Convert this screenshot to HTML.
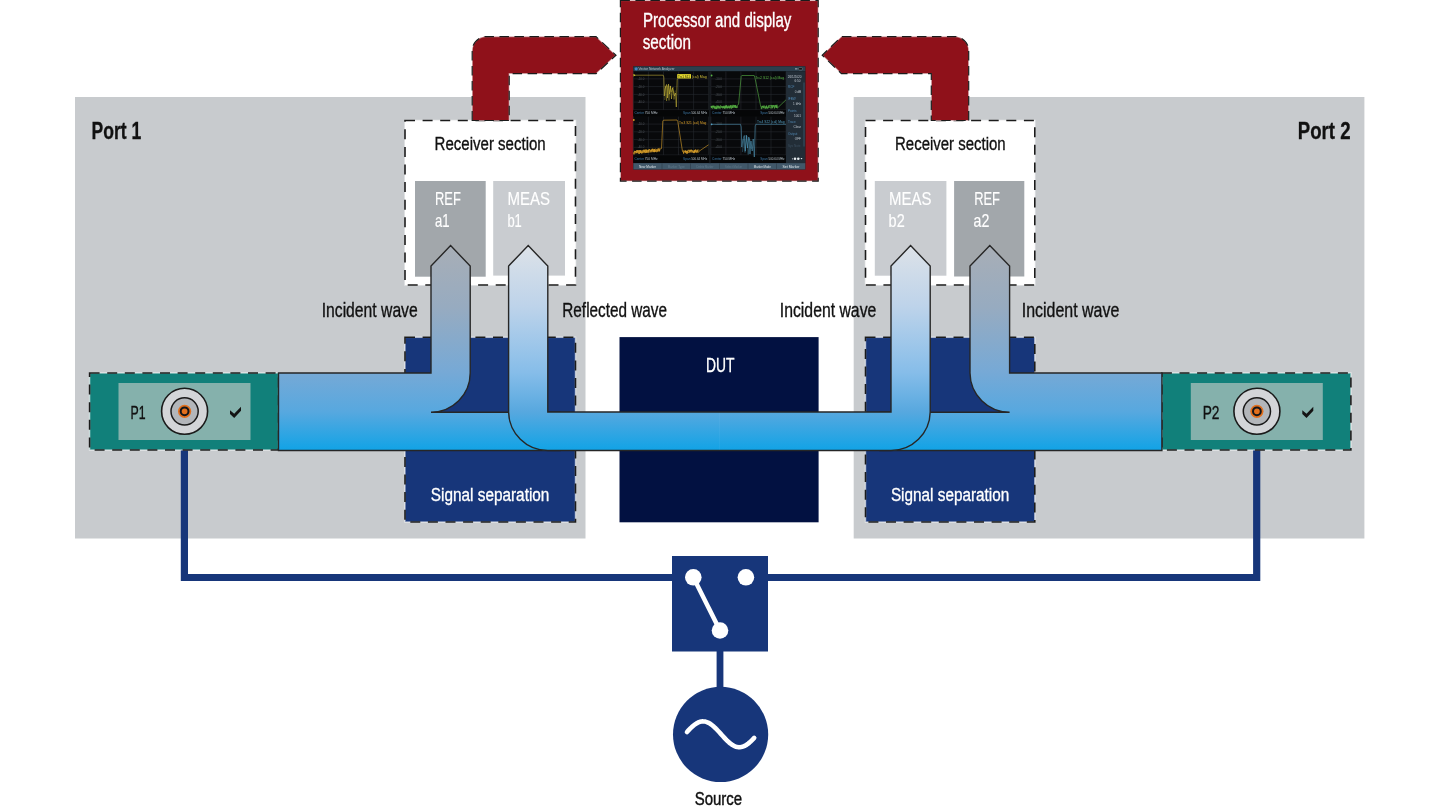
<!DOCTYPE html>
<html><head><meta charset="utf-8"><style>
html,body{margin:0;padding:0;background:#fff;}
svg{display:block;will-change:transform;}
text{font-family:"Liberation Sans",sans-serif;}
</style></head><body>
<svg width="1440" height="810" viewBox="0 0 1440 810">
<rect width="1440" height="810" fill="#fff"/>
<rect x="75" y="97" width="510.5" height="441.5" fill="#c8cbce"/>
<rect x="853.7" y="97" width="510.7" height="441.5" fill="#c8cbce"/>
<rect x="620.4" y="0.5" width="197.8" height="180.6" fill="#8f111a" stroke="#ffffff" stroke-opacity="0.45" stroke-width="1.2"/>
<rect x="620.4" y="0.5" width="197.8" height="180.6" fill="none" stroke="#1b1b1b" stroke-width="1.2" stroke-dasharray="9.5 5.5"/>
<rect x="405" y="120.5" width="170.5" height="164.5" fill="#ffffff" stroke="#ffffff" stroke-opacity="0.55" stroke-width="1.5"/>
<rect x="405" y="120.5" width="170.5" height="164.5" fill="none" stroke="#1b1b1b" stroke-width="1.6" stroke-dasharray="10 7.6"/>
<rect x="865.5" y="120.5" width="169.3" height="164.5" fill="#ffffff" stroke="#ffffff" stroke-opacity="0.55" stroke-width="1.5"/>
<rect x="865.5" y="120.5" width="169.3" height="164.5" fill="none" stroke="#1b1b1b" stroke-width="1.6" stroke-dasharray="10 7.6"/>
<rect x="415" y="181" width="70.7" height="95.7" fill="#a2a7ab"/>
<rect x="493.2" y="181" width="71.8" height="94.6" fill="#c9ccd0"/>
<rect x="874.8" y="181" width="71.6" height="94.7" fill="#c9ccd0"/>
<rect x="954.1" y="181" width="70.2" height="95.5" fill="#a2a7ab"/>
<path d="M472.2,120.5 V50.6 A14,14 0 0 1 486.2,36.6 H596 L616,55.2 L596,73.7 H509.2 V120.5 Z" fill="#8f111a" stroke="#ffffff" stroke-opacity="0.45" stroke-width="1.2"/>
<path d="M472.2,120.5 V50.6 A14,14 0 0 1 486.2,36.6 H596 L616,55.2 L596,73.7 H509.2 V120.5 Z" fill="none" stroke="#1b1b1b" stroke-width="1.2" stroke-dasharray="9.5 5.5"/>
<path d="M968.7,120.5 V50.6 A14,14 0 0 0 954.7,36.6 H841.5 L822.2,55.2 L841.5,73.7 H931.3 V120.5 Z" fill="#8f111a" stroke="#ffffff" stroke-opacity="0.45" stroke-width="1.2"/>
<path d="M968.7,120.5 V50.6 A14,14 0 0 0 954.7,36.6 H841.5 L822.2,55.2 L841.5,73.7 H931.3 V120.5 Z" fill="none" stroke="#1b1b1b" stroke-width="1.2" stroke-dasharray="9.5 5.5"/>
<rect x="405" y="337.3" width="170.5" height="184.7" fill="#17367a" stroke="#ffffff" stroke-opacity="0.55" stroke-width="1.5"/>
<rect x="405" y="337.3" width="170.5" height="184.7" fill="none" stroke="#1b1b1b" stroke-width="1.6" stroke-dasharray="10 7.6"/>
<rect x="865.5" y="337.3" width="169.3" height="184.7" fill="#17367a" stroke="#ffffff" stroke-opacity="0.55" stroke-width="1.5"/>
<rect x="865.5" y="337.3" width="169.3" height="184.7" fill="none" stroke="#1b1b1b" stroke-width="1.6" stroke-dasharray="10 7.6"/>
<rect x="619.5" y="337.1" width="199.1" height="185.2" fill="#021141"/>
<polyline points="184.4,448 184.4,577.5 1256.7,577.5 1256.7,448" fill="none" stroke="#17367a" stroke-width="7.2"/>
<line x1="720" y1="650" x2="720" y2="690" stroke="#17367a" stroke-width="6.8"/>
<rect x="89.6" y="373" width="189" height="77" fill="#11807a" stroke="#ffffff" stroke-opacity="0.55" stroke-width="1.5"/>
<rect x="89.6" y="373" width="189" height="77" fill="none" stroke="#1b1b1b" stroke-width="1.6" stroke-dasharray="10 7.6"/>
<rect x="118.5" y="383" width="132" height="57" fill="#85b1ac"/>
<circle cx="184.6" cy="411.3" r="23" fill="#d3d5d8" stroke="#1a1a1a" stroke-width="1.6"/>
<circle cx="184.6" cy="411.3" r="13.6" fill="#b3b6ba" stroke="#1a1a1a" stroke-width="1.5"/>
<circle cx="184.6" cy="411.3" r="6.6" fill="#e36f1d"/>
<circle cx="184.6" cy="411.3" r="3.9" fill="none" stroke="#14161a" stroke-width="2"/>
<path d="M230.0,410.3 L234.2,413.8 L241.0,406.8 L241.0,410.8 L234.2,418 L230.0,414 Z" fill="#141414"/>
<rect x="1161.9" y="373" width="189" height="77" fill="#11807a" stroke="#ffffff" stroke-opacity="0.55" stroke-width="1.5"/>
<rect x="1161.9" y="373" width="189" height="77" fill="none" stroke="#1b1b1b" stroke-width="1.6" stroke-dasharray="10 7.6"/>
<rect x="1190.8000000000002" y="383" width="132" height="57" fill="#85b1ac"/>
<circle cx="1256.9" cy="411.3" r="23" fill="#d3d5d8" stroke="#1a1a1a" stroke-width="1.6"/>
<circle cx="1256.9" cy="411.3" r="13.6" fill="#b3b6ba" stroke="#1a1a1a" stroke-width="1.5"/>
<circle cx="1256.9" cy="411.3" r="6.6" fill="#e36f1d"/>
<circle cx="1256.9" cy="411.3" r="3.9" fill="none" stroke="#14161a" stroke-width="2"/>
<path d="M1302.3000000000002,410.3 L1306.5000000000002,413.8 L1313.3000000000002,406.8 L1313.3000000000002,410.8 L1306.5000000000002,418 L1302.3000000000002,414 Z" fill="#141414"/>
<defs>
<linearGradient id="gA" gradientUnits="userSpaceOnUse" x1="0" y1="245" x2="0" y2="451">
<stop offset="0" stop-color="#a8aeb6"/>
<stop offset="0.3" stop-color="#97abc0"/>
<stop offset="0.62" stop-color="#76a9d6"/>
<stop offset="0.81" stop-color="#57a8df"/>
<stop offset="1" stop-color="#10a3e6"/>
</linearGradient>
<linearGradient id="gB" gradientUnits="userSpaceOnUse" x1="0" y1="245" x2="0" y2="451">
<stop offset="0" stop-color="#dde2e8"/>
<stop offset="0.3" stop-color="#bdd3ea"/>
<stop offset="0.62" stop-color="#86bde9"/>
<stop offset="0.81" stop-color="#57a8df"/>
<stop offset="1" stop-color="#10a3e6"/>
</linearGradient>
</defs>
<path d="M278.5,373 H431 V266 L450.6,245.6 L470.2,266 V373 A39.2,39.2 0 0 1 431,412.2 H560 V450.5 H278.5 Z" fill="url(#gA)" stroke="#262626" stroke-width="1.4"/>
<path d="M1161.9,373 H1009.6 V266 L989.8,245.6 L970,266 V373 A39.6,39.6 0 0 0 1009.6,412.2 H880 V450.5 H1161.9 Z" fill="url(#gA)" stroke="#262626" stroke-width="1.4"/>
<path d="M508.6,412 V266 L528.2,245.6 L547.8,266 V412 H891 V266 L910.6,245.6 L930.2,266 V412 A39.2,39.2 0 0 1 891,450.5 H547.8 A39.2,39.2 0 0 1 508.6,412 Z" fill="url(#gB)" stroke="#262626" stroke-width="1.4"/>
<line x1="719.6" y1="412.8" x2="719.6" y2="449.8" stroke="#ffffff" stroke-opacity="0.07" stroke-width="0.7"/>
<rect x="672" y="556" width="96" height="95.5" fill="#17367a"/>
<line x1="693.3" y1="577.3" x2="720" y2="630.5" stroke="#fff" stroke-width="4.5"/>
<circle cx="693.3" cy="577.3" r="8.3" fill="#fff"/>
<circle cx="745.9" cy="577.3" r="8.3" fill="#fff"/>
<circle cx="720" cy="630.5" r="8.3" fill="#fff"/>
<circle cx="720.6" cy="734.4" r="47.6" fill="#17367a"/>
<polyline points="687.00,731.97 688.20,730.67 689.40,729.40 690.60,728.19 691.80,727.05 693.00,725.98 694.20,725.00 695.40,724.13 696.60,723.36 697.80,722.71 699.00,722.18 700.20,721.79 701.40,721.53 702.60,721.41 703.80,721.43 705.00,721.58 706.20,721.88 707.40,722.30 708.60,722.86 709.80,723.54 711.00,724.33 712.20,725.24 713.40,726.24 714.60,727.33 715.80,728.49 717.00,729.71 718.20,730.99 719.40,732.30 720.60,733.63 721.80,734.97 723.00,736.30 724.20,737.61 725.40,738.89 726.60,740.11 727.80,741.27 729.00,742.36 730.20,743.36 731.40,744.27 732.60,745.06 733.80,745.74 735.00,746.30 736.20,746.72 737.40,747.02 738.60,747.17 739.80,747.19 741.00,747.07 742.20,746.81 743.40,746.42 744.60,745.89 745.80,745.24 747.00,744.47 748.20,743.60 749.40,742.62 750.60,741.55 751.80,740.41 753.00,739.20 754.20,737.93" fill="none" stroke="#fff" stroke-width="4.6" stroke-linecap="round" stroke-linejoin="round"/>
<text x="91.50" y="138.80" font-size="24.71" font-weight="bold" fill="#111" textLength="49.70" lengthAdjust="spacingAndGlyphs" stroke="#111" stroke-width="0.35" >Port 1</text>
<text x="1297.80" y="138.80" font-size="24.71" font-weight="bold" fill="#111" textLength="52.70" lengthAdjust="spacingAndGlyphs" stroke="#111" stroke-width="0.35" >Port 2</text>
<text x="643.00" y="26.60" font-size="19.48" fill="#ffffff" textLength="148.41" lengthAdjust="spacingAndGlyphs" stroke="#ffffff" stroke-width="0.35" >Processor and display</text>
<text x="642.70" y="48.70" font-size="19.48" fill="#ffffff" textLength="48.31" lengthAdjust="spacingAndGlyphs" stroke="#ffffff" stroke-width="0.35" >section</text>
<text x="434.60" y="150.30" font-size="19.19" fill="#111" textLength="111.10" lengthAdjust="spacingAndGlyphs" stroke="#111" stroke-width="0.35" >Receiver section</text>
<text x="895.00" y="150.30" font-size="19.19" fill="#111" textLength="110.70" lengthAdjust="spacingAndGlyphs" stroke="#111" stroke-width="0.35" >Receiver section</text>
<text x="435.00" y="204.50" font-size="17.44" fill="#ffffff" textLength="25.80" lengthAdjust="spacingAndGlyphs" stroke="#ffffff" stroke-width="0.15" >REF</text>
<text x="435.00" y="226.50" font-size="17.44" fill="#ffffff" textLength="14.60" lengthAdjust="spacingAndGlyphs" stroke="#ffffff" stroke-width="0.15" >a1</text>
<text x="507.40" y="204.50" font-size="17.44" fill="#ffffff" textLength="42.60" lengthAdjust="spacingAndGlyphs" stroke="#ffffff" stroke-width="0.15" >MEAS</text>
<text x="507.40" y="226.50" font-size="17.44" fill="#ffffff" textLength="14.40" lengthAdjust="spacingAndGlyphs" stroke="#ffffff" stroke-width="0.15" >b1</text>
<text x="889.00" y="204.50" font-size="17.44" fill="#ffffff" textLength="42.40" lengthAdjust="spacingAndGlyphs" stroke="#ffffff" stroke-width="0.15" >MEAS</text>
<text x="888.60" y="226.50" font-size="17.44" fill="#ffffff" textLength="16.10" lengthAdjust="spacingAndGlyphs" stroke="#ffffff" stroke-width="0.15" >b2</text>
<text x="974.20" y="204.50" font-size="17.44" fill="#ffffff" textLength="25.80" lengthAdjust="spacingAndGlyphs" stroke="#ffffff" stroke-width="0.15" >REF</text>
<text x="973.50" y="226.50" font-size="17.44" fill="#ffffff" textLength="15.80" lengthAdjust="spacingAndGlyphs" stroke="#ffffff" stroke-width="0.15" >a2</text>
<text x="321.70" y="316.80" font-size="19.48" fill="#111" textLength="96.00" lengthAdjust="spacingAndGlyphs" stroke="#111" stroke-width="0.35" >Incident wave</text>
<text x="562.30" y="316.80" font-size="19.48" fill="#111" textLength="104.70" lengthAdjust="spacingAndGlyphs" stroke="#111" stroke-width="0.35" >Reflected wave</text>
<text x="779.80" y="316.80" font-size="19.48" fill="#111" textLength="96.50" lengthAdjust="spacingAndGlyphs" stroke="#111" stroke-width="0.35" >Incident wave</text>
<text x="1021.80" y="317.00" font-size="19.48" fill="#111" textLength="97.50" lengthAdjust="spacingAndGlyphs" stroke="#111" stroke-width="0.35" >Incident wave</text>
<text x="705.90" y="371.60" font-size="19.77" fill="#ffffff" textLength="28.50" lengthAdjust="spacingAndGlyphs" stroke="#ffffff" stroke-width="0.35" >DUT</text>
<text x="430.80" y="500.80" font-size="18.90" fill="#ffffff" textLength="118.59" lengthAdjust="spacingAndGlyphs" stroke="#ffffff" stroke-width="0.35" >Signal separation</text>
<text x="890.90" y="501.00" font-size="18.90" fill="#ffffff" textLength="118.39" lengthAdjust="spacingAndGlyphs" stroke="#ffffff" stroke-width="0.35" >Signal separation</text>
<text x="130.50" y="419.00" font-size="18.90" fill="#111" textLength="15.10" lengthAdjust="spacingAndGlyphs" stroke="#111" stroke-width="0.35" >P1</text>
<text x="1202.70" y="418.80" font-size="18.90" fill="#111" textLength="16.80" lengthAdjust="spacingAndGlyphs" stroke="#111" stroke-width="0.35" >P2</text>
<text x="694.70" y="804.60" font-size="18.60" fill="#111" textLength="47.51" lengthAdjust="spacingAndGlyphs" stroke="#111" stroke-width="0.45" >Source</text>
<rect x="633.3" y="66.3" width="172.0" height="103.2" fill="#08090b"/>
<rect x="633.3" y="66.3" width="172.0" height="4.9" fill="#2c3f4d"/>
<circle cx="636.2" cy="68.8" r="1.6" fill="#3f86c0"/>
<text x="638.6" y="70.3" font-size="3.9" fill="#b8c4cc" textLength="36" lengthAdjust="spacingAndGlyphs">Vector Network Analyzer</text>
<rect x="798.5" y="67.6" width="4" height="2.4" rx="1.1" fill="#111" stroke="#9aa6b0" stroke-width="0.4"/>
<rect x="795" y="68.5" width="2.5" height="0.8" fill="#c8d0d8"/>
<rect x="786" y="71.2" width="19.3" height="91.9" fill="#222d37"/>
<rect x="803.6" y="82.5" width="0.8" height="64" fill="#3d5a70"/>
<text x="801.5" y="77.5" font-size="3.1" fill="#c0c8d0" text-anchor="end">26/1/2020</text>
<text x="800.5" y="82.3" font-size="3.1" fill="#c0c8d0" text-anchor="end">6:50</text>
<text x="788" y="87.5" font-size="3.1" fill="#4f86b0" text-anchor="start">RCF</text>
<text x="801" y="92.5" font-size="3.1" fill="#c0c8d0" text-anchor="end">0 dB</text>
<text x="788" y="99.5" font-size="3.1" fill="#4f86b0" text-anchor="start">IFBW</text>
<text x="801" y="104.5" font-size="3.1" fill="#c0c8d0" text-anchor="end">1 kHz</text>
<text x="788" y="111.5" font-size="3.1" fill="#4f86b0" text-anchor="start">Points</text>
<text x="801" y="116.5" font-size="3.1" fill="#c0c8d0" text-anchor="end">1001</text>
<text x="788" y="123" font-size="3.1" fill="#4f86b0" text-anchor="start">Trace</text>
<text x="801" y="128" font-size="3.1" fill="#c0c8d0" text-anchor="end">Clear</text>
<text x="788" y="135" font-size="3.1" fill="#4f86b0" text-anchor="start">Output</text>
<text x="801" y="140" font-size="3.1" fill="#c0c8d0" text-anchor="end">OFF</text>
<text x="788" y="147" font-size="3.1" fill="#3c4e5e" text-anchor="start">Sys Note</text>
<circle cx="792.5" cy="158.8" r="0.6" fill="#c8d0d8"/><circle cx="795" cy="158.8" r="1.3" fill="#e8eef2"/><circle cx="798.3" cy="158.8" r="1.3" fill="#e8eef2"/><path d="M800.5,158 h2 l-1,1.6z" fill="#e8eef2"/>
<rect x="633.3" y="163.1" width="172" height="6.4" fill="#41586a"/>
<text x="647.6" y="167.7" font-size="3.3" fill="#dfe6ea" text-anchor="middle" textLength="17" lengthAdjust="spacingAndGlyphs">New Marker</text>
<rect x="661.7" y="163.3" width="0.6" height="6" fill="#2c3c48"/>
<text x="676.3" y="167.7" font-size="3.3" fill="#62798a" text-anchor="middle" textLength="17" lengthAdjust="spacingAndGlyphs">Marker Type</text>
<rect x="690.3" y="163.3" width="0.6" height="6" fill="#2c3c48"/>
<text x="705.0" y="167.7" font-size="3.3" fill="#62798a" text-anchor="middle" textLength="17" lengthAdjust="spacingAndGlyphs">Delete Marker</text>
<rect x="719.0" y="163.3" width="0.6" height="6" fill="#2c3c48"/>
<text x="733.6" y="167.7" font-size="3.3" fill="#62798a" text-anchor="middle" textLength="17" lengthAdjust="spacingAndGlyphs">Select Marker</text>
<rect x="747.7" y="163.3" width="0.6" height="6" fill="#2c3c48"/>
<text x="762.3" y="167.7" font-size="3.3" fill="#dfe6ea" text-anchor="middle" textLength="17" lengthAdjust="spacingAndGlyphs">Marker Mode</text>
<rect x="776.3" y="163.3" width="0.6" height="6" fill="#2c3c48"/>
<text x="791.0" y="167.7" font-size="3.3" fill="#dfe6ea" text-anchor="middle" textLength="17" lengthAdjust="spacingAndGlyphs">Set Marker</text>
<rect x="708.7" y="71.2" width="2.2" height="91.9" fill="#14181c"/>
<line x1="633.3" y1="71.5" x2="633.3" y2="109.8" stroke="#262a2f" stroke-width="0.6"/>
<line x1="648.4" y1="71.5" x2="648.4" y2="109.8" stroke="#262a2f" stroke-width="0.6"/>
<line x1="663.5" y1="71.5" x2="663.5" y2="109.8" stroke="#262a2f" stroke-width="0.6"/>
<line x1="678.5" y1="71.5" x2="678.5" y2="109.8" stroke="#262a2f" stroke-width="0.6"/>
<line x1="693.6" y1="71.5" x2="693.6" y2="109.8" stroke="#262a2f" stroke-width="0.6"/>
<line x1="708.7" y1="71.5" x2="708.7" y2="109.8" stroke="#262a2f" stroke-width="0.6"/>
<line x1="633.3" y1="78.9" x2="708.7" y2="78.9" stroke="#262a2f" stroke-width="0.6"/>
<line x1="633.3" y1="86.6" x2="708.7" y2="86.6" stroke="#262a2f" stroke-width="0.6"/>
<line x1="633.3" y1="94.4" x2="708.7" y2="94.4" stroke="#262a2f" stroke-width="0.6"/>
<line x1="633.3" y1="102.1" x2="708.7" y2="102.1" stroke="#262a2f" stroke-width="0.6"/>
<line x1="633.3" y1="109.8" x2="708.7" y2="109.8" stroke="#262a2f" stroke-width="0.6"/>
<rect x="633.3" y="110.2" width="75.40000000000009" height="6.000000000000005" fill="#050607"/>
<text x="634.5" y="114.2" font-size="3.2" fill="#3f78a6">Center</text>
<text x="644.8" y="114.2" font-size="3.2" fill="#b8c2ca">750 MHz</text>
<text x="683.0" y="114.2" font-size="3.2" fill="#3f78a6">Span</text>
<text x="691.2" y="114.2" font-size="3.2" fill="#b8c2ca" textLength="16" lengthAdjust="spacingAndGlyphs">500.64 MHz</text>
<text x="637.8" y="80.0" font-size="2.9" fill="#50555b">-10.0</text>
<text x="637.8" y="87.7" font-size="2.9" fill="#50555b">-20.0</text>
<text x="637.8" y="95.5" font-size="2.9" fill="#50555b">-30.0</text>
<text x="637.8" y="103.2" font-size="2.9" fill="#50555b">-40.0</text>
<line x1="710.9" y1="71.5" x2="710.9" y2="109.8" stroke="#262a2f" stroke-width="0.6"/>
<line x1="725.9" y1="71.5" x2="725.9" y2="109.8" stroke="#262a2f" stroke-width="0.6"/>
<line x1="740.9" y1="71.5" x2="740.9" y2="109.8" stroke="#262a2f" stroke-width="0.6"/>
<line x1="756.0" y1="71.5" x2="756.0" y2="109.8" stroke="#262a2f" stroke-width="0.6"/>
<line x1="771.0" y1="71.5" x2="771.0" y2="109.8" stroke="#262a2f" stroke-width="0.6"/>
<line x1="786.0" y1="71.5" x2="786.0" y2="109.8" stroke="#262a2f" stroke-width="0.6"/>
<line x1="710.9" y1="78.9" x2="786" y2="78.9" stroke="#262a2f" stroke-width="0.6"/>
<line x1="710.9" y1="86.6" x2="786" y2="86.6" stroke="#262a2f" stroke-width="0.6"/>
<line x1="710.9" y1="94.4" x2="786" y2="94.4" stroke="#262a2f" stroke-width="0.6"/>
<line x1="710.9" y1="102.1" x2="786" y2="102.1" stroke="#262a2f" stroke-width="0.6"/>
<line x1="710.9" y1="109.8" x2="786" y2="109.8" stroke="#262a2f" stroke-width="0.6"/>
<rect x="710.9" y="110.2" width="75.10000000000002" height="6.000000000000005" fill="#050607"/>
<text x="712.1" y="114.2" font-size="3.2" fill="#3f78a6">Center</text>
<text x="722.4" y="114.2" font-size="3.2" fill="#b8c2ca">750 MHz</text>
<text x="760.3" y="114.2" font-size="3.2" fill="#3f78a6">Span</text>
<text x="768.5" y="114.2" font-size="3.2" fill="#b8c2ca" textLength="16" lengthAdjust="spacingAndGlyphs">500.64 MHz</text>
<text x="715.4" y="80.0" font-size="2.9" fill="#50555b">-10.0</text>
<text x="715.4" y="87.7" font-size="2.9" fill="#50555b">-20.0</text>
<text x="715.4" y="95.5" font-size="2.9" fill="#50555b">-30.0</text>
<text x="715.4" y="103.2" font-size="2.9" fill="#50555b">-40.0</text>
<line x1="633.3" y1="116.7" x2="633.3" y2="155" stroke="#262a2f" stroke-width="0.6"/>
<line x1="648.4" y1="116.7" x2="648.4" y2="155" stroke="#262a2f" stroke-width="0.6"/>
<line x1="663.5" y1="116.7" x2="663.5" y2="155" stroke="#262a2f" stroke-width="0.6"/>
<line x1="678.5" y1="116.7" x2="678.5" y2="155" stroke="#262a2f" stroke-width="0.6"/>
<line x1="693.6" y1="116.7" x2="693.6" y2="155" stroke="#262a2f" stroke-width="0.6"/>
<line x1="708.7" y1="116.7" x2="708.7" y2="155" stroke="#262a2f" stroke-width="0.6"/>
<line x1="633.3" y1="124.1" x2="708.7" y2="124.1" stroke="#262a2f" stroke-width="0.6"/>
<line x1="633.3" y1="131.8" x2="708.7" y2="131.8" stroke="#262a2f" stroke-width="0.6"/>
<line x1="633.3" y1="139.6" x2="708.7" y2="139.6" stroke="#262a2f" stroke-width="0.6"/>
<line x1="633.3" y1="147.3" x2="708.7" y2="147.3" stroke="#262a2f" stroke-width="0.6"/>
<line x1="633.3" y1="155.0" x2="708.7" y2="155.0" stroke="#262a2f" stroke-width="0.6"/>
<rect x="633.3" y="155.4" width="75.40000000000009" height="7.400000000000011" fill="#050607"/>
<text x="634.5" y="160.1" font-size="3.2" fill="#3f78a6">Center</text>
<text x="644.8" y="160.1" font-size="3.2" fill="#b8c2ca">750 MHz</text>
<text x="683.0" y="160.1" font-size="3.2" fill="#3f78a6">Span</text>
<text x="691.2" y="160.1" font-size="3.2" fill="#b8c2ca" textLength="16" lengthAdjust="spacingAndGlyphs">500.64 MHz</text>
<text x="637.8" y="125.2" font-size="2.9" fill="#50555b">-10.0</text>
<text x="637.8" y="132.9" font-size="2.9" fill="#50555b">-20.0</text>
<text x="637.8" y="140.7" font-size="2.9" fill="#50555b">-30.0</text>
<text x="637.8" y="148.4" font-size="2.9" fill="#50555b">-40.0</text>
<line x1="710.9" y1="116.7" x2="710.9" y2="155" stroke="#262a2f" stroke-width="0.6"/>
<line x1="725.9" y1="116.7" x2="725.9" y2="155" stroke="#262a2f" stroke-width="0.6"/>
<line x1="740.9" y1="116.7" x2="740.9" y2="155" stroke="#262a2f" stroke-width="0.6"/>
<line x1="756.0" y1="116.7" x2="756.0" y2="155" stroke="#262a2f" stroke-width="0.6"/>
<line x1="771.0" y1="116.7" x2="771.0" y2="155" stroke="#262a2f" stroke-width="0.6"/>
<line x1="786.0" y1="116.7" x2="786.0" y2="155" stroke="#262a2f" stroke-width="0.6"/>
<line x1="710.9" y1="124.1" x2="786" y2="124.1" stroke="#262a2f" stroke-width="0.6"/>
<line x1="710.9" y1="131.8" x2="786" y2="131.8" stroke="#262a2f" stroke-width="0.6"/>
<line x1="710.9" y1="139.6" x2="786" y2="139.6" stroke="#262a2f" stroke-width="0.6"/>
<line x1="710.9" y1="147.3" x2="786" y2="147.3" stroke="#262a2f" stroke-width="0.6"/>
<line x1="710.9" y1="155.0" x2="786" y2="155.0" stroke="#262a2f" stroke-width="0.6"/>
<rect x="710.9" y="155.4" width="75.10000000000002" height="7.400000000000011" fill="#050607"/>
<text x="712.1" y="160.1" font-size="3.2" fill="#3f78a6">Center</text>
<text x="722.4" y="160.1" font-size="3.2" fill="#b8c2ca">750 MHz</text>
<text x="760.3" y="160.1" font-size="3.2" fill="#3f78a6">Span</text>
<text x="768.5" y="160.1" font-size="3.2" fill="#b8c2ca" textLength="16" lengthAdjust="spacingAndGlyphs">500.64 MHz</text>
<text x="715.4" y="125.2" font-size="2.9" fill="#50555b">-10.0</text>
<text x="715.4" y="132.9" font-size="2.9" fill="#50555b">-20.0</text>
<text x="715.4" y="140.7" font-size="2.9" fill="#50555b">-30.0</text>
<text x="715.4" y="148.4" font-size="2.9" fill="#50555b">-40.0</text>
<polyline points="634.50,75.20 663.20,75.20 663.80,77.00 664.30,96.00 665.00,89.00 666.50,84.50 667.50,98.00 668.50,84.00 669.50,94.00 670.50,86.00 671.50,99.00 672.50,88.00 673.50,92.00 674.50,96.00 675.50,93.00 676.30,107.00 677.20,80.00 677.40,79.00" fill="none" stroke="#cdbb3a" stroke-width="0.55" stroke-opacity="1" stroke-linejoin="round"/>
<polyline points="664.80,100.00 665.60,86.00 666.60,101.00 667.80,85.50 669.00,100.50 670.20,85.80 671.20,92.00 673.00,87.00 674.00,99.50 675.20,90.50" fill="none" stroke="#cdbb3a" stroke-width="0.45" stroke-opacity="0.8" stroke-linejoin="round"/>
<rect x="677.2" y="74.1" width="13.8" height="4.4" fill="#e2d72e"/>
<text x="678" y="77.6" font-size="3.5" fill="#1a1a10" textLength="12" lengthAdjust="spacingAndGlyphs">Trc1 S11</text>
<text x="691.8" y="77.6" font-size="3.5" fill="#cdbb3a" textLength="15" lengthAdjust="spacingAndGlyphs">(cal) Mag</text>
<path d="M633.5,73.8 L635.5,75.2 L633.5,76.6 Z" fill="#e0cc30"/>
<polyline points="711.00,106.83 711.28,106.16 711.56,108.05 711.84,105.84 712.12,107.59 712.40,106.94 712.68,105.76 712.96,107.45 713.24,105.66 713.52,107.15 713.80,105.76 714.08,105.83 714.36,107.09 714.64,108.60 714.92,105.92 715.20,106.29 715.48,107.82 715.76,109.02 716.04,107.60 716.32,106.91 716.60,109.10 716.88,105.56 717.16,108.63 717.44,106.46 717.72,105.89 718.00,105.78 718.28,106.50 718.56,108.42 718.84,105.99 719.12,107.50 719.40,107.71 719.68,106.69 719.96,107.34 720.24,105.49 720.52,105.47 720.80,106.01 721.08,107.81 721.36,106.83 721.64,106.39 721.92,107.41 722.20,106.90 722.48,106.31 722.76,108.17 723.04,107.80 723.32,106.06 723.60,107.31 723.88,107.11 724.16,108.43 724.44,107.86 724.72,106.18 725.00,108.80 725.28,105.51 725.56,106.64 725.84,107.92 726.12,105.61 726.40,106.88 726.68,105.16 726.96,107.54 727.24,107.89 727.52,107.15 727.80,108.29 728.08,106.15 728.36,107.59 728.64,107.19 728.92,107.13 729.20,106.65 729.48,108.09 729.76,108.48 730.04,106.68 730.32,107.39 730.60,105.09 730.88,107.52 731.16,107.30 731.44,108.60 731.72,107.94 732.00,105.89 732.28,106.26 732.56,107.33 732.84,104.86 733.12,106.52 733.40,105.39 733.68,105.19 733.96,104.96 734.24,107.64 734.52,105.20 734.80,105.64 735.08,106.18 735.36,107.99 735.64,104.98 735.92,106.37 736.20,106.74 736.48,108.00 736.76,107.74 737.04,107.90 737.32,105.66 738.60,104.00 741.20,76.20 741.80,75.50 754.20,75.50 755.00,78.00 760.30,104.50 761.00,107.18 761.28,106.95 761.56,108.93 761.84,109.19 762.12,106.11 762.40,106.18 762.68,106.38 762.96,106.37 763.24,107.31 763.52,107.69 763.80,106.43 764.08,105.43 764.36,106.99 764.64,106.78 764.92,107.51 765.20,108.97 765.48,107.95 765.76,107.27 766.04,107.64 766.32,107.85 766.60,105.47 766.88,108.66 767.16,108.19 767.44,108.53 767.72,108.22 768.00,106.67 768.28,106.67 768.56,105.54 768.84,107.54 769.12,105.34 769.40,105.35 769.68,105.87 769.96,105.67 770.24,106.33 770.52,105.22 770.80,105.01 771.08,105.56 771.36,105.36 771.64,106.34 771.92,105.04 772.20,108.24 772.48,107.24 772.76,105.45 773.04,105.83 773.32,106.17 773.60,106.22 773.88,105.29 774.16,108.03 774.44,108.56 774.72,106.54 775.00,106.59 775.28,105.06 775.56,105.11 775.84,106.00 776.12,105.69 776.40,107.82 776.68,105.26 776.96,104.72 777.24,108.23 786.00,99.80" fill="none" stroke="#58b444" stroke-width="0.6" stroke-opacity="1" stroke-linejoin="round"/>
<polyline points="711.00,107.59 711.28,106.36 711.56,107.62 711.84,105.95 712.12,107.55 712.40,108.98 712.68,108.60 712.96,108.05 713.24,106.65 713.52,106.98 713.80,106.33 714.08,108.25 714.36,107.48 714.64,108.26 714.92,106.81 715.20,106.46 715.48,108.33 715.76,108.87 716.04,108.44 716.32,108.28 716.60,108.31 716.88,108.05 717.16,106.39 717.44,107.31 717.72,106.78 718.00,105.73 718.28,105.71 718.56,106.51 718.84,106.43 719.12,107.81 719.40,108.64 719.68,107.00 719.96,108.56 720.24,108.71 720.52,108.60 720.80,106.70 721.08,106.23 721.36,106.23 721.64,106.13 721.92,106.14 722.20,107.47 722.48,108.35 722.76,108.15 723.04,106.98 723.32,107.52 723.60,107.98 723.88,105.69 724.16,107.52 724.44,108.30 724.72,107.89 725.00,107.77 725.28,106.89 725.56,105.92 725.84,107.87 726.12,106.39 726.40,107.88 726.68,108.42 726.96,106.56 727.24,106.57 727.52,108.31 727.80,107.59 728.08,105.80 728.36,105.65 728.64,105.72 728.92,108.12 729.20,107.79 729.48,105.67 729.76,107.84 730.04,108.32 730.32,107.27 730.60,106.28 730.88,106.91 731.16,105.56 731.44,105.17 731.72,108.22 732.00,107.19 732.28,106.78 732.56,108.07 732.84,106.46 733.12,107.85 733.40,107.70 733.68,105.72 733.96,105.84 734.24,105.96 734.52,105.78 734.80,106.88 735.08,105.82 735.36,106.32 735.64,105.39 735.92,107.87 736.20,106.08 736.48,106.40 736.76,106.79 737.04,107.81 737.32,106.25" fill="none" stroke="#58b444" stroke-width="0.5" stroke-opacity="0.9" stroke-linejoin="round"/>
<polyline points="761.00,108.84 761.28,107.49 761.56,107.57 761.84,107.52 762.12,105.89 762.40,107.22 762.68,106.38 762.96,105.79 763.24,108.32 763.52,106.30 763.80,107.25 764.08,108.03 764.36,107.48 764.64,106.72 764.92,107.32 765.20,107.42 765.48,108.14 765.76,105.95 766.04,107.39 766.32,106.37 766.60,106.45 766.88,108.01 767.16,107.15 767.44,107.31 767.72,107.92 768.00,108.40 768.28,106.88 768.56,107.40 768.84,107.04 769.12,107.05 769.40,107.61 769.68,106.82 769.96,107.06 770.24,106.87 770.52,108.34 770.80,107.54 771.08,108.09 771.36,108.29 771.64,106.09 771.92,107.03 772.20,108.24 772.48,107.89 772.76,105.63 773.04,105.56 773.32,106.57 773.60,105.37 773.88,105.89 774.16,105.34 774.44,107.23 774.72,107.58 775.00,107.92 775.28,105.53 775.56,107.31 775.84,107.11 776.12,105.44 776.40,107.79 776.68,108.05 776.96,105.64 777.24,107.96" fill="none" stroke="#58b444" stroke-width="0.5" stroke-opacity="0.9" stroke-linejoin="round"/>
<text x="755.3" y="78.6" font-size="3.6" fill="#58b444" textLength="28.8" lengthAdjust="spacingAndGlyphs">Trc2 S12 (cal) Mag</text>
<circle cx="711.6" cy="75.5" r="0.9" fill="#58b444"/>
<polyline points="633.50,152.09 633.78,152.42 634.06,154.41 634.34,153.75 634.62,151.04 634.90,152.09 635.18,152.40 635.46,151.67 635.74,151.07 636.02,151.54 636.30,153.12 636.58,150.29 636.86,152.40 637.14,151.92 637.42,150.20 637.70,151.43 637.98,152.57 638.26,152.10 638.54,150.28 638.82,153.94 639.10,153.13 639.38,153.83 639.66,150.34 639.94,150.95 640.22,150.02 640.50,152.96 640.78,150.89 641.06,150.31 641.34,151.45 641.62,153.38 641.90,152.98 642.18,150.72 642.46,150.25 642.74,153.30 643.02,151.88 643.30,152.38 643.58,149.91 643.86,149.75 644.14,152.25 644.42,151.17 644.70,149.73 644.98,153.17 645.26,151.93 645.54,152.57 645.82,149.67 646.10,152.74 646.38,149.55 646.66,152.71 646.94,151.05 647.22,150.56 647.50,151.39 647.78,152.86 648.06,150.20 648.34,149.62 648.62,151.18 648.90,150.00 649.18,149.46 649.46,149.64 649.74,149.17 650.02,149.75 650.30,150.16 650.58,150.11 650.86,151.90 651.14,150.00 651.42,150.81 651.70,149.49 651.98,150.14 652.26,148.80 652.54,149.71 652.82,148.74 653.10,151.58 653.38,150.83 653.66,149.36 653.94,150.47 654.22,152.28 654.50,148.94 654.78,151.77 655.06,150.19 655.34,150.42 655.62,151.75 655.90,149.96 656.18,150.39 656.46,151.08 656.74,152.24 657.02,149.65 657.30,151.58 657.58,151.06 657.86,150.75 658.14,149.79 658.42,149.54 658.70,148.34 658.98,148.62 659.26,148.35 659.54,151.01 659.82,149.04 661.50,148.50 662.80,121.00 663.50,120.20 677.00,120.00 677.80,121.50 682.50,151.50 683.00,150.72 683.28,150.40 683.56,153.26 683.84,153.36 684.12,152.58 684.40,151.08 684.68,150.92 684.96,151.09 685.24,151.71 685.52,150.54 685.80,151.62 686.08,150.91 686.36,153.54 686.64,153.57 686.92,151.93 687.20,150.77 687.48,153.49 687.76,150.98 688.04,151.14 688.32,149.77 688.60,151.20 688.88,151.54 689.16,151.63 689.44,150.46 689.72,151.60 690.00,149.68 690.28,150.65 690.56,149.97 690.84,151.13 691.12,149.75 691.40,149.66 691.68,150.71 691.96,150.42 692.24,151.75 692.52,151.52 692.80,152.34 693.08,151.97 693.36,152.17 693.64,152.78 693.92,150.90 694.20,150.64 694.48,153.12 694.76,149.93 695.04,152.10 695.32,151.77 695.60,149.48 695.88,152.47 696.16,152.67 696.44,151.64 696.72,152.03 697.00,152.31 697.28,149.74 697.56,151.18 697.84,151.09 698.12,152.33 698.40,152.20 698.68,152.26 698.96,151.32 708.50,144.80" fill="none" stroke="#dea22a" stroke-width="0.6" stroke-opacity="1" stroke-linejoin="round"/>
<polyline points="633.50,153.84 633.78,153.10 634.06,153.10 634.34,151.50 634.62,150.80 634.90,151.12 635.18,151.87 635.46,150.97 635.74,153.43 636.02,152.46 636.30,152.67 636.58,152.64 636.86,152.80 637.14,152.12 637.42,150.44 637.70,153.12 637.98,152.92 638.26,152.06 638.54,152.14 638.82,152.54 639.10,150.50 639.38,152.75 639.66,151.08 639.94,150.45 640.22,151.07 640.50,152.62 640.78,150.81 641.06,152.60 641.34,153.38 641.62,151.71 641.90,151.31 642.18,151.61 642.46,152.28 642.74,152.54 643.02,152.00 643.30,152.06 643.58,150.11 643.86,150.32 644.14,150.66 644.42,152.30 644.70,150.78 644.98,151.65 645.26,149.73 645.54,149.87 645.82,150.55 646.10,151.90 646.38,151.94 646.66,151.86 646.94,150.52 647.22,151.26 647.50,151.06 647.78,151.04 648.06,149.83 648.34,152.44 648.62,150.05 648.90,152.67 649.18,152.50 649.46,149.35 649.74,150.83 650.02,152.03 650.30,152.51 650.58,150.72 650.86,150.08 651.14,149.85 651.42,152.32 651.70,149.80 651.98,151.03 652.26,149.51 652.54,150.79 652.82,152.22 653.10,149.40 653.38,151.71 653.66,150.63 653.94,151.89 654.22,151.24 654.50,149.61 654.78,151.84 655.06,150.42 655.34,148.82 655.62,148.73 655.90,150.36 656.18,150.19 656.46,149.66 656.74,149.09 657.02,149.75 657.30,149.63 657.58,151.39 657.86,148.51 658.14,151.03 658.42,151.30 658.70,148.83 658.98,151.55 659.26,150.79 659.54,151.41 659.82,149.30" fill="none" stroke="#dea22a" stroke-width="0.5" stroke-opacity="0.9" stroke-linejoin="round"/>
<polyline points="683.00,151.59 683.28,151.64 683.56,153.56 683.84,152.23 684.12,151.48 684.40,151.68 684.68,151.18 684.96,150.43 685.24,150.59 685.52,152.91 685.80,151.14 686.08,153.20 686.36,150.99 686.64,151.02 686.92,151.79 687.20,150.75 687.48,151.31 687.76,153.16 688.04,152.91 688.32,152.67 688.60,152.07 688.88,152.96 689.16,153.03 689.44,151.76 689.72,152.28 690.00,150.12 690.28,152.29 690.56,151.37 690.84,152.32 691.12,151.95 691.40,150.79 691.68,150.01 691.96,152.81 692.24,150.23 692.52,151.32 692.80,150.89 693.08,150.72 693.36,152.12 693.64,152.86 693.92,150.55 694.20,151.80 694.48,150.65 694.76,151.45 695.04,150.91 695.32,150.17 695.60,150.13 695.88,150.26 696.16,152.48 696.44,151.15 696.72,150.25 697.00,152.43 697.28,152.70 697.56,150.93 697.84,149.92 698.12,150.07 698.40,149.73 698.68,150.51 698.96,149.69" fill="none" stroke="#dea22a" stroke-width="0.5" stroke-opacity="0.9" stroke-linejoin="round"/>
<text x="678.9" y="123.5" font-size="3.6" fill="#dea22a" textLength="27.4" lengthAdjust="spacingAndGlyphs">Trc3 S21 (cal) Mag</text>
<circle cx="633.8" cy="120" r="0.9" fill="#dea22a"/>
<polyline points="711.00,124.30 740.50,124.30 741.20,127.00 741.80,147.00 742.80,140.00 744.30,135.50 745.30,151.00 746.30,135.00 747.50,148.00 748.80,137.00 750.00,154.00 751.00,141.00 752.20,151.00 753.20,139.00 754.30,157.00 755.20,126.00 755.80,124.30 786.00,124.30" fill="none" stroke="#559fc2" stroke-width="0.55" stroke-opacity="1" stroke-linejoin="round"/>
<polyline points="742.50,152.00 743.80,139.00 745.00,152.50 746.80,136.00 748.20,154.50 749.50,138.50 751.50,149.00" fill="none" stroke="#559fc2" stroke-width="0.45" stroke-opacity="0.8" stroke-linejoin="round"/>
<text x="757" y="123" font-size="3.6" fill="#559fc2" textLength="27.5" lengthAdjust="spacingAndGlyphs">Trc4 S22 (cal) Mag</text>
<circle cx="711.6" cy="124.3" r="0.9" fill="#559fc2"/>
</svg>
</body></html>
